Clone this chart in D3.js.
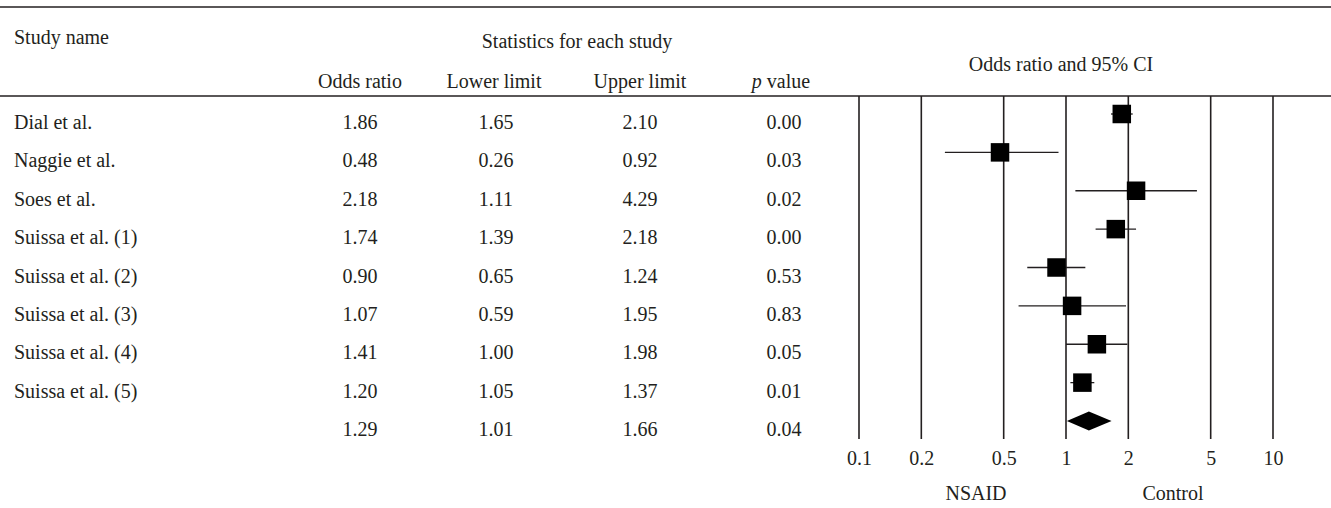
<!DOCTYPE html>
<html>
<head>
<meta charset="utf-8">
<script src="https://cdn.jsdelivr.net/npm/d3@7"></script>
<style>
  html, body { margin: 0; padding: 0; background: #fff; }
  svg { display: block; }
  text { font-family: "Liberation Serif", "DejaVu Serif", serif; font-size: 20px; fill: #231f20; }
</style>
</head>
<body>
<svg id="chart" width="1331" height="508"></svg>
<script>
const studies = ["Dial et al.", "Naggie et al.", "Soes et al.", "Suissa et al. (1)", "Suissa et al. (2)",
                 "Suissa et al. (3)", "Suissa et al. (4)", "Suissa et al. (5)", ""];
const oddsRatio = [1.86, 0.48, 2.18, 1.74, 0.90, 1.07, 1.41, 1.20, 1.29];
const lowerLimit = [1.65, 0.26, 1.11, 1.39, 0.65, 0.59, 1.00, 1.05, 1.01];
const upperLimit = [2.10, 0.92, 4.29, 2.18, 1.24, 1.95, 1.98, 1.37, 1.66];
const pValue = ["0.00", "0.03", "0.02", "0.00", "0.53", "0.83", "0.05", "0.01", "0.04"];
const isSummary = [false, false, false, false, false, false, false, false, true];
const tickValues = [0.1, 0.2, 0.5, 1, 2, 5, 10];
const tickLabels = ["0.1", "0.2", "0.5", "1", "2", "5", "10"];

const fmt = d3.format(".2f");
const svg = d3.select("#chart");
const W = 1331;
const ink = "#231f20";

// scales
const x = d3.scaleLog().domain([0.1, 10]).range([859, 1273]);
const y = d3.scaleLinear().domain([0, 8]).range([114, 421]);
const textOffset = 15;

// rules
svg.append("line").attr("x1", 0).attr("x2", W).attr("y1", 7).attr("y2", 7)
  .attr("stroke", ink).attr("stroke-width", 1.6);
svg.append("line").attr("x1", 0).attr("x2", W).attr("y1", 96).attr("y2", 96)
  .attr("stroke", ink).attr("stroke-width", 1.6);

// headers
svg.append("text").attr("x", 14).attr("y", 44).text("Study name");
svg.append("text").attr("x", 577).attr("y", 48).attr("text-anchor", "middle").text("Statistics for each study");
const cols = [
  {x: 360, label: "Odds ratio"},
  {x: 494, label: "Lower limit"},
  {x: 640, label: "Upper limit"},
];
cols.forEach(c => svg.append("text").attr("x", c.x).attr("y", 88).attr("text-anchor", "middle").text(c.label));
const pv = svg.append("text").attr("x", 781).attr("y", 88).attr("text-anchor", "middle");
pv.append("tspan").attr("font-style", "italic").text("p");
pv.append("tspan").text(" value");
svg.append("text").attr("x", 1061).attr("y", 71).attr("text-anchor", "middle").text("Odds ratio and 95% CI");

// table rows
const rows = svg.append("g");
studies.forEach((s, i) => {
  const ty = y(i) + textOffset;
  rows.append("text").attr("x", 14).attr("y", ty).text(s);
  rows.append("text").attr("x", 360).attr("y", ty).attr("text-anchor", "middle").text(fmt(oddsRatio[i]));
  rows.append("text").attr("x", 496).attr("y", ty).attr("text-anchor", "middle").text(fmt(lowerLimit[i]));
  rows.append("text").attr("x", 640).attr("y", ty).attr("text-anchor", "middle").text(fmt(upperLimit[i]));
  rows.append("text").attr("x", 784).attr("y", ty).attr("text-anchor", "middle").text(pValue[i]);
});

// vertical grid lines
svg.append("g").selectAll("line").data(tickValues).join("line")
  .attr("x1", d => x(d)).attr("x2", d => x(d))
  .attr("y1", 96).attr("y2", 439)
  .attr("stroke", ink).attr("stroke-width", 1.6);

// axis labels
const axis = d3.axisBottom(x).tickValues(tickValues).tickFormat((d, i) => tickLabels[i]).tickSize(0);
const ag = svg.append("g").attr("transform", "translate(0,439)").call(axis);
ag.select(".domain").remove();
ag.selectAll("text").attr("dy", null).attr("y", 26)
  .attr("font-family", null).attr("font-size", null).attr("fill", ink);

svg.append("text").attr("x", 976).attr("y", 500).attr("text-anchor", "middle").text("NSAID");
svg.append("text").attr("x", 1173).attr("y", 500).attr("text-anchor", "middle").text("Control");

// CI lines and squares
const sq = 18.5;
const studyIdx = d3.range(studies.length).filter(i => !isSummary[i]);
svg.append("g").selectAll("line").data(studyIdx).join("line")
  .attr("x1", i => x(lowerLimit[i])).attr("x2", i => x(upperLimit[i]))
  .attr("y1", i => y(i)).attr("y2", i => y(i))
  .attr("stroke", ink).attr("stroke-width", 1.3);
svg.append("g").selectAll("rect").data(studyIdx).join("rect")
  .attr("x", i => x(oddsRatio[i]) - sq / 2).attr("y", i => y(i) - sq / 2)
  .attr("width", sq).attr("height", sq).attr("fill", "#000");

// summary diamond
const sumIdx = d3.range(studies.length).filter(i => isSummary[i]);
svg.append("g").selectAll("path").data(sumIdx).join("path")
  .attr("d", i => {
    const cy = y(i), h = 9.5;
    return `M${x(lowerLimit[i])},${cy} L${x(oddsRatio[i])},${cy - h} L${x(upperLimit[i])},${cy} L${x(oddsRatio[i])},${cy + h} Z`;
  })
  .attr("fill", "#000");
</script>
</body>
</html>
